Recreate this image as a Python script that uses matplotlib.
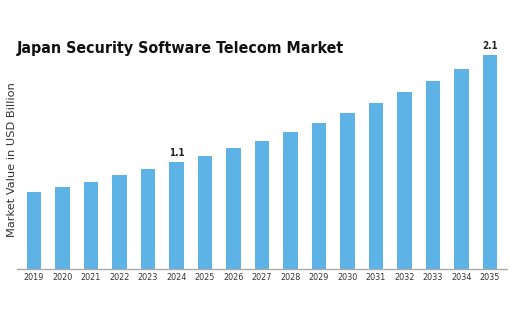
import matplotlib
matplotlib.use("Agg")
import matplotlib.pyplot as plt

years = ["2019", "2020", "2021", "2022", "2023", "2024", "2025", "2026", "2027",
         "2028", "2029", "2030", "2031", "2032", "2033", "2034", "2035"]
values = [0.76, 0.81, 0.86, 0.92, 0.98, 1.05, 1.11, 1.19, 1.26,
          1.35, 1.44, 1.53, 1.63, 1.74, 1.85, 1.97, 2.10]
labels = {"2024": "1.1", "2035": "2.1"}

W, H = 526, 322
fig = plt.figure(figsize=(W / 100, H / 100), dpi=100)
ax = fig.add_axes([17 / W, 53 / H, 490 / W, 228.8 / H])

x = list(range(len(years)))
ax.bar(x, values, width=0.5, color="#5DB2E6", edgecolor="none")
ax.set_xlim(-0.6, 16.6)
ax.set_ylim(0, 2.25)
ax.set_xticks(x)
ax.set_xticklabels(years, fontsize=6.5, color="#333333", fontstretch="condensed")
ax.tick_params(axis="x", length=0, pad=3)
ax.set_yticks([])
for s in ["top", "right", "left"]:
    ax.spines[s].set_visible(False)
ax.spines["bottom"].set_color("#aaaaaa")
ax.spines["bottom"].set_linewidth(1.0)

for i, y in enumerate(years):
    if y in labels:
        ax.text(i, values[i] + 0.04, labels[y], ha="center", va="bottom",
                fontsize=7, fontweight="bold", color="#222222",
                fontstretch="condensed")

fig.text(12 / W, 162 / H, "Market Value in USD Billion", rotation=90,
         ha="center", va="center", fontsize=8.2, color="#333333")
fig.text(17 / W, (H - 53) / H, "Japan Security Software Telecom Market",
         ha="left", va="baseline", fontsize=11.4, fontweight="bold",
         color="#111111", fontstretch="condensed")

fig.savefig("out.png", dpi=100, facecolor="white")
